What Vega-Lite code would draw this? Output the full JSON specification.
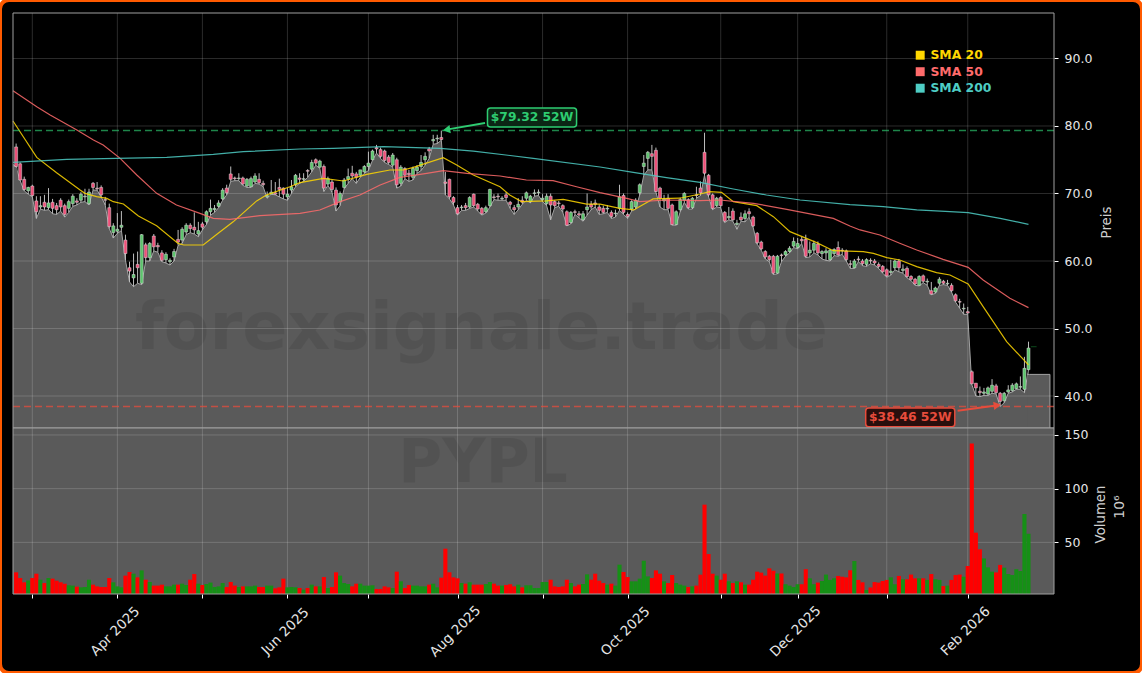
{"$schema":"https://vega.github.io/schema/vega-lite/v6.json","width":1142,"height":673,"padding":0,"autosize":"none","background":"#ffffff",
"config":{"font":"DejaVu Sans","view":{"fill":"#000000","stroke":"#ff5a00","strokeWidth":4,"cornerRadius":9}},
"datasets":{
"rows":[
{"i":0,"o":76.9,"h":77.4,"l":73.9,"c":74,"v":22.1,"d":"d"},{"i":1,"o":74.4,"h":74.6,"l":71.9,"c":72,"v":16.8,"d":"d"},{"i":2,"o":72.1,"h":72.5,"l":70.4,"c":70.6,"v":12.8,"d":"d"},{"i":3,"o":70.4,"h":71,"l":69.9,"c":70.9,"v":14.6,"d":"u"},{"i":4,"o":71.1,"h":71.3,"l":69.5,"c":69.7,"v":16.8,"d":"d"},{"i":5,"o":68.9,"h":69.6,"l":66.3,"c":67.3,"v":20.8,"d":"d"},{"i":6,"o":68,"h":69.6,"l":67.7,"c":68.2,"v":15.2,"d":"u"},{"i":7,"o":68.7,"h":69.8,"l":67.5,"c":68,"v":12.1,"d":"d"},{"i":8,"o":67.9,"h":70.8,"l":67.6,"c":68.6,"v":16.8,"d":"u"},{"i":9,"o":68.7,"h":69.2,"l":67,"c":67.8,"v":16.2,"d":"d"},
{"i":10,"o":68.2,"h":68.6,"l":66.9,"c":67.6,"v":14.3,"d":"d"},{"i":11,"o":69,"h":69.3,"l":67.4,"c":68,"v":12.8,"d":"d"},{"i":12,"o":68.2,"h":68.5,"l":66.5,"c":66.9,"v":11.5,"d":"d"},{"i":13,"o":67.8,"h":69.1,"l":67.2,"c":68.8,"v":10,"d":"u"},{"i":14,"o":68.5,"h":69.9,"l":68.1,"c":69.6,"v":9.7,"d":"u"},{"i":15,"o":68.9,"h":69.3,"l":68.3,"c":68.7,"v":8.7,"d":"d"},{"i":16,"o":69,"h":70.2,"l":68.7,"c":69.9,"v":8.1,"d":"u"},{"i":17,"o":69.5,"h":70.7,"l":68.8,"c":69.6,"v":8.4,"d":"u"},{"i":18,"o":68.5,"h":70.7,"l":68.3,"c":70.2,"v":15.2,"d":"u"},{"i":19,"o":71.5,"h":71.7,"l":70.5,"c":70.9,"v":10.6,"d":"d"},
{"i":20,"o":70.8,"h":71.7,"l":70.5,"c":70.7,"v":9,"d":"d"},{"i":21,"o":70.9,"h":71.2,"l":69.5,"c":69.8,"v":8.4,"d":"d"},{"i":22,"o":69.1,"h":69.5,"l":68.3,"c":69,"v":8.4,"d":"d"},{"i":23,"o":67.9,"h":68.5,"l":64.8,"c":65.1,"v":16.8,"d":"d"},{"i":24,"o":64.2,"h":65.6,"l":63.4,"c":65.2,"v":12.8,"d":"u"},{"i":25,"o":64.4,"h":67.1,"l":64.1,"c":64.7,"v":9,"d":"u"},{"i":26,"o":65,"h":67.4,"l":64.5,"c":65.3,"v":8.1,"d":"u"},{"i":27,"o":63.1,"h":63.9,"l":60.1,"c":61.1,"v":19,"d":"d"},{"i":28,"o":59,"h":59.9,"l":56.9,"c":58.5,"v":22.4,"d":"d"},{"i":29,"o":57.5,"h":61.1,"l":56.2,"c":58,"v":20.8,"d":"u"},
{"i":30,"o":59.5,"h":61.4,"l":56.7,"c":59,"v":17.4,"d":"d"},{"i":31,"o":56.7,"h":64,"l":56.5,"c":63.9,"v":23.9,"d":"u"},{"i":32,"o":62.4,"h":62.7,"l":60,"c":60.5,"v":15.2,"d":"d"},{"i":33,"o":60.5,"h":62.8,"l":60,"c":62.6,"v":13.1,"d":"u"},{"i":34,"o":63.7,"h":64,"l":61.5,"c":62.1,"v":9.7,"d":"d"},{"i":35,"o":62.3,"h":62.7,"l":61.3,"c":62.1,"v":9.7,"d":"d"},{"i":36,"o":61.2,"h":61.6,"l":59.9,"c":60.1,"v":10.6,"d":"d"},{"i":37,"o":60.2,"h":61.3,"l":59.7,"c":61,"v":9,"d":"u"},{"i":38,"o":59.9,"h":60.4,"l":59.4,"c":60.1,"v":9,"d":"u"},{"i":39,"o":60.6,"h":61.8,"l":60,"c":61.4,"v":10.6,"d":"u"},
{"i":40,"o":63.2,"h":64.6,"l":62.3,"c":62.8,"v":10.6,"d":"d"},{"i":41,"o":63.1,"h":65,"l":62.6,"c":64.7,"v":11.5,"d":"u"},{"i":42,"o":64.3,"h":65.6,"l":63.9,"c":65.3,"v":10.3,"d":"u"},{"i":43,"o":65.3,"h":65.6,"l":64.2,"c":64.8,"v":15.2,"d":"d"},{"i":44,"o":65,"h":67.2,"l":64,"c":64.6,"v":20.5,"d":"d"},{"i":45,"o":64,"h":65.8,"l":63.6,"c":64.5,"v":11.5,"d":"u"},{"i":46,"o":65.5,"h":65.8,"l":64.6,"c":65,"v":10.3,"d":"d"},{"i":47,"o":65.8,"h":67.5,"l":65.4,"c":67.3,"v":11.2,"d":"u"},{"i":48,"o":67.3,"h":69.1,"l":66.8,"c":67.8,"v":12.5,"d":"u"},{"i":49,"o":67.6,"h":68.3,"l":67.2,"c":67.8,"v":8.4,"d":"u"},
{"i":50,"o":68.1,"h":69,"l":67.9,"c":68.6,"v":9,"d":"u"},{"i":51,"o":69.2,"h":70.8,"l":69,"c":70.5,"v":12.1,"d":"u"},{"i":52,"o":70.8,"h":71.3,"l":69.8,"c":70.1,"v":8.4,"d":"d"},{"i":53,"o":72.9,"h":74,"l":71.8,"c":72.1,"v":13.1,"d":"d"},{"i":54,"o":72.3,"h":72.5,"l":71.9,"c":72.2,"v":9.7,"d":"d"},{"i":55,"o":72.2,"h":73,"l":71.9,"c":72.3,"v":8.4,"d":"u"},{"i":56,"o":72.3,"h":72.5,"l":71.2,"c":71.4,"v":9,"d":"d"},{"i":57,"o":71.1,"h":72.3,"l":70.9,"c":72.1,"v":9,"d":"u"},{"i":58,"o":71,"h":72.5,"l":70.9,"c":72.2,"v":9,"d":"u"},{"i":59,"o":71.7,"h":73,"l":71.5,"c":72.6,"v":9.7,"d":"u"},
{"i":60,"o":72.1,"h":73,"l":71.4,"c":71.6,"v":8.4,"d":"d"},{"i":61,"o":71.5,"h":71.9,"l":71,"c":71.3,"v":8.4,"d":"d"},{"i":62,"o":69.5,"h":70.3,"l":69.3,"c":69.7,"v":9.7,"d":"u"},{"i":63,"o":69.9,"h":72,"l":69.9,"c":70.2,"v":9.7,"d":"u"},{"i":64,"o":70.1,"h":71.7,"l":69.8,"c":69.9,"v":7.2,"d":"d"},{"i":65,"o":70.9,"h":72.2,"l":69.5,"c":70.6,"v":8.1,"d":"d"},{"i":66,"o":70.8,"h":70.9,"l":69.2,"c":69.9,"v":16.2,"d":"d"},{"i":67,"o":69.5,"h":70.8,"l":69,"c":69.9,"v":8.1,"d":"u"},{"i":68,"o":70.5,"h":72,"l":70,"c":71,"v":8.4,"d":"u"},{"i":69,"o":71.3,"h":72.9,"l":71,"c":72.7,"v":8.1,"d":"u"},
{"i":70,"o":72.3,"h":73,"l":71.5,"c":72.1,"v":7.5,"d":"d"},{"i":71,"o":72.1,"h":73,"l":71.8,"c":72.2,"v":5.9,"d":"u"},{"i":72,"o":73.4,"h":73.6,"l":72.4,"c":73.3,"v":7.5,"d":"d"},{"i":73,"o":73.6,"h":75,"l":73.2,"c":74.6,"v":10.6,"d":"u"},{"i":74,"o":75,"h":75.2,"l":74.2,"c":74.5,"v":9,"d":"d"},{"i":75,"o":73.9,"h":75,"l":73.7,"c":74.8,"v":9,"d":"u"},{"i":76,"o":74,"h":74.3,"l":70.3,"c":70.8,"v":17.7,"d":"d"},{"i":77,"o":71.4,"h":72.5,"l":71.2,"c":72.2,"v":7.5,"d":"u"},{"i":78,"o":71.7,"h":72,"l":70.2,"c":70.6,"v":8.4,"d":"d"},{"i":79,"o":70.5,"h":70.9,"l":67.4,"c":68.3,"v":22.1,"d":"d"},
{"i":80,"o":68.8,"h":70.3,"l":68.2,"c":70,"v":19,"d":"u"},{"i":81,"o":70.9,"h":72.3,"l":70.7,"c":72,"v":12.1,"d":"u"},{"i":82,"o":72.1,"h":73.7,"l":71.5,"c":72.5,"v":11.2,"d":"u"},{"i":83,"o":73,"h":74.1,"l":72.2,"c":72.6,"v":9,"d":"d"},{"i":84,"o":72.9,"h":73.2,"l":71.5,"c":72.4,"v":11.5,"d":"d"},{"i":85,"o":72.7,"h":73.5,"l":72.4,"c":73.5,"v":11.5,"d":"u"},{"i":86,"o":73.2,"h":74.2,"l":73,"c":74,"v":9.7,"d":"u"},{"i":87,"o":74,"h":76.2,"l":73.4,"c":74.5,"v":9.7,"d":"u"},{"i":88,"o":75,"h":76.5,"l":74.9,"c":76.3,"v":10,"d":"u"},{"i":89,"o":76.8,"h":77.2,"l":76,"c":76.6,"v":6.6,"d":"d"},
{"i":90,"o":76.5,"h":76.8,"l":75.2,"c":75.5,"v":6.6,"d":"d"},{"i":91,"o":76.3,"h":76.5,"l":74.6,"c":74.9,"v":9,"d":"d"},{"i":92,"o":75.4,"h":75.7,"l":74.3,"c":74.6,"v":8.1,"d":"d"},{"i":93,"o":74.2,"h":76,"l":73.9,"c":75.7,"v":7.5,"d":"u"},{"i":94,"o":75,"h":75.3,"l":70.8,"c":71.3,"v":22.7,"d":"d"},{"i":95,"o":71.5,"h":74.2,"l":71.1,"c":73.9,"v":13.7,"d":"u"},{"i":96,"o":73.7,"h":73.9,"l":72.2,"c":72.7,"v":7.5,"d":"d"},{"i":97,"o":73,"h":73.5,"l":71.8,"c":72.8,"v":10.3,"d":"d"},{"i":98,"o":72.4,"h":74,"l":72,"c":73.7,"v":9.7,"d":"u"},{"i":99,"o":73.4,"h":74.2,"l":73,"c":73.9,"v":9.7,"d":"u"},
{"i":100,"o":74,"h":75.7,"l":73.4,"c":74.6,"v":9,"d":"u"},{"i":101,"o":75,"h":76.1,"l":74.2,"c":75.5,"v":9,"d":"u"},{"i":102,"o":76.6,"h":76.9,"l":75.2,"c":76.3,"v":10.6,"d":"d"},{"i":103,"o":77.8,"h":78.7,"l":77.3,"c":78,"v":11.5,"d":"u"},{"i":104,"o":78.1,"h":78.7,"l":77.4,"c":78.2,"v":8.1,"d":"u"},{"i":105,"o":78.3,"h":79.32,"l":77.9,"c":78,"v":17.1,"d":"d"},{"i":106,"o":71.7,"h":73.2,"l":69.8,"c":71.5,"v":44.1,"d":"d"},{"i":107,"o":72.1,"h":72.2,"l":69.2,"c":69.5,"v":22.1,"d":"d"},{"i":108,"o":69.4,"h":69.6,"l":68.3,"c":68.7,"v":17.4,"d":"d"},{"i":109,"o":67.9,"h":68.3,"l":66.8,"c":67,"v":16.5,"d":"d"},
{"i":110,"o":67.9,"h":68.3,"l":67.5,"c":68,"v":12.1,"d":"u"},{"i":111,"o":68.2,"h":68.6,"l":67.5,"c":67.9,"v":11.5,"d":"d"},{"i":112,"o":68,"h":69.6,"l":67.8,"c":69.4,"v":12.8,"d":"u"},{"i":113,"o":69.9,"h":70,"l":68,"c":68.2,"v":10.6,"d":"d"},{"i":114,"o":68.4,"h":68.6,"l":67.4,"c":67.7,"v":10.6,"d":"d"},{"i":115,"o":67.8,"h":68,"l":66.8,"c":67,"v":10.6,"d":"d"},{"i":116,"o":67.3,"h":68.2,"l":67.1,"c":67.9,"v":11.2,"d":"u"},{"i":117,"o":68.2,"h":70.7,"l":68,"c":70.6,"v":13.1,"d":"u"},{"i":118,"o":69.5,"h":69.9,"l":69.1,"c":69.4,"v":11.5,"d":"d"},{"i":119,"o":69.6,"h":70,"l":69,"c":69.5,"v":9.7,"d":"d"},
{"i":120,"o":69.2,"h":69.6,"l":69,"c":69.3,"v":9.7,"d":"u"},{"i":121,"o":69.8,"h":70.2,"l":69,"c":69.4,"v":10.3,"d":"d"},{"i":122,"o":68.7,"h":68.9,"l":67.8,"c":68.4,"v":10.9,"d":"d"},{"i":123,"o":67.9,"h":68.3,"l":66.9,"c":67.6,"v":9,"d":"d"},{"i":124,"o":68,"h":69.3,"l":67.6,"c":68.4,"v":10.6,"d":"u"},{"i":125,"o":69,"h":69.6,"l":68.4,"c":68.7,"v":8.1,"d":"d"},{"i":126,"o":69.3,"h":70.3,"l":69,"c":70.1,"v":10,"d":"u"},{"i":127,"o":68.8,"h":69.8,"l":68.6,"c":69.6,"v":10,"d":"u"},{"i":128,"o":70,"h":70.6,"l":69.6,"c":70.1,"v":7.5,"d":"u"},{"i":129,"o":70.1,"h":70.6,"l":69.7,"c":70.2,"v":7.5,"d":"u"},
{"i":130,"o":69.1,"h":69.9,"l":68.8,"c":69.3,"v":13.1,"d":"u"},{"i":131,"o":68.5,"h":70,"l":68.2,"c":69.6,"v":13.1,"d":"u"},{"i":132,"o":69.6,"h":70,"l":66.1,"c":68.3,"v":15.2,"d":"d"},{"i":133,"o":68.8,"h":69,"l":67.9,"c":68.2,"v":9,"d":"d"},{"i":134,"o":68.6,"h":68.9,"l":68.1,"c":68.5,"v":8.4,"d":"d"},{"i":135,"o":68.2,"h":68.4,"l":67.2,"c":67.7,"v":9,"d":"d"},{"i":136,"o":67.3,"h":67.5,"l":65.2,"c":65.3,"v":15.2,"d":"d"},{"i":137,"o":65.7,"h":67.4,"l":65.5,"c":67.2,"v":12.1,"d":"u"},{"i":138,"o":67.3,"h":67.6,"l":66.9,"c":67.2,"v":9,"d":"d"},{"i":139,"o":67,"h":67.4,"l":66.4,"c":66.8,"v":10.6,"d":"d"},
{"i":140,"o":66.1,"h":67.4,"l":65.9,"c":67,"v":11.2,"d":"u"},{"i":141,"o":67.6,"h":70,"l":66.8,"c":68,"v":20.2,"d":"u"},{"i":142,"o":68.4,"h":68.9,"l":67.6,"c":68,"v":15.2,"d":"d"},{"i":143,"o":68.6,"h":69.1,"l":68,"c":68.4,"v":20.8,"d":"d"},{"i":144,"o":68,"h":68.4,"l":66.9,"c":67.5,"v":14.3,"d":"d"},{"i":145,"o":67.8,"h":68.2,"l":67,"c":67.2,"v":12.1,"d":"d"},{"i":146,"o":67.7,"h":68.3,"l":67.2,"c":67.8,"v":10.6,"d":"u"},{"i":147,"o":67.2,"h":67.5,"l":66.3,"c":66.6,"v":11.5,"d":"d"},{"i":148,"o":67,"h":67.6,"l":66.5,"c":67.1,"v":9.7,"d":"u"},{"i":149,"o":67.8,"h":71.3,"l":67.5,"c":69.5,"v":29.2,"d":"u"},
{"i":150,"o":69.7,"h":70,"l":66.9,"c":67.2,"v":22.4,"d":"d"},{"i":151,"o":66.9,"h":67.2,"l":66.3,"c":66.6,"v":17.7,"d":"d"},{"i":152,"o":67.7,"h":69,"l":67.4,"c":68.8,"v":13.7,"d":"u"},{"i":153,"o":68,"h":69.3,"l":67.7,"c":69,"v":13.7,"d":"u"},{"i":154,"o":70.1,"h":71.5,"l":69.8,"c":71.3,"v":16.2,"d":"u"},{"i":155,"o":74,"h":75.7,"l":72.7,"c":74.5,"v":32.9,"d":"u"},{"i":156,"o":75.2,"h":76.3,"l":73.5,"c":76.1,"v":18.3,"d":"u"},{"i":157,"o":75.9,"h":77.2,"l":73.5,"c":75.5,"v":16.8,"d":"d"},{"i":158,"o":76.4,"h":76.8,"l":70.2,"c":70.3,"v":23.9,"d":"d"},{"i":159,"o":70.8,"h":71,"l":68,"c":69.3,"v":20.8,"d":"d"},
{"i":160,"o":68.9,"h":69.8,"l":67.6,"c":69.2,"v":13.7,"d":"u"},{"i":161,"o":69.3,"h":69.9,"l":67.6,"c":67.8,"v":12.1,"d":"d"},{"i":162,"o":68.3,"h":68.5,"l":65.3,"c":65.4,"v":19.6,"d":"d"},{"i":163,"o":65.4,"h":67.5,"l":65.3,"c":67.3,"v":12.1,"d":"u"},{"i":164,"o":67.6,"h":69.4,"l":67.3,"c":69.1,"v":10.6,"d":"u"},{"i":165,"o":69,"h":70.2,"l":68.7,"c":70,"v":9.7,"d":"u"},{"i":166,"o":69.1,"h":69.3,"l":67.7,"c":67.9,"v":8.4,"d":"d"},{"i":167,"o":67.9,"h":69.5,"l":67.7,"c":69.3,"v":9,"d":"u"},{"i":168,"o":69.8,"h":71,"l":69.3,"c":69.7,"v":9.7,"d":"d"},{"i":169,"o":70.8,"h":71.8,"l":69.7,"c":70.1,"v":19.9,"d":"d"},
{"i":170,"o":76.1,"h":79,"l":72.7,"c":73,"v":85.1,"d":"d"},{"i":171,"o":72.7,"h":72.9,"l":69.5,"c":69.8,"v":39.1,"d":"d"},{"i":172,"o":69.8,"h":70,"l":67.6,"c":67.8,"v":20.8,"d":"d"},{"i":173,"o":68.2,"h":69.5,"l":68,"c":69.3,"v":19,"d":"u"},{"i":174,"o":69.4,"h":69.6,"l":67.9,"c":68.2,"v":15.2,"d":"d"},{"i":175,"o":67.2,"h":67.4,"l":65.7,"c":65.9,"v":20.8,"d":"d"},{"i":176,"o":66.4,"h":68,"l":66.1,"c":66.6,"v":13.7,"d":"u"},{"i":177,"o":67.4,"h":67.8,"l":65.9,"c":66.1,"v":12.1,"d":"d"},{"i":178,"o":65.4,"h":66.1,"l":64.7,"c":65.6,"v":13.7,"d":"u"},{"i":179,"o":66.5,"h":67.2,"l":65.9,"c":66.1,"v":12.8,"d":"d"},
{"i":180,"o":66.3,"h":67.5,"l":65.8,"c":67,"v":10.6,"d":"u"},{"i":181,"o":67.3,"h":67.8,"l":66.5,"c":67,"v":10.6,"d":"d"},{"i":182,"o":66.5,"h":66.7,"l":65,"c":65.2,"v":15.2,"d":"d"},{"i":183,"o":64.1,"h":64.3,"l":62.5,"c":62.7,"v":22.7,"d":"d"},{"i":184,"o":62.8,"h":63,"l":61.6,"c":61.8,"v":21.8,"d":"d"},{"i":185,"o":61.4,"h":61.6,"l":60.3,"c":60.6,"v":19,"d":"d"},{"i":186,"o":60.7,"h":60.9,"l":59.9,"c":60.2,"v":25.8,"d":"d"},{"i":187,"o":60.7,"h":60.9,"l":58,"c":58.2,"v":23.6,"d":"d"},{"i":188,"o":58.2,"h":60.9,"l":58.1,"c":60.7,"v":21,"d":"u"},{"i":189,"o":60.9,"h":61.1,"l":59.9,"c":60.8,"v":21,"d":"d"},
{"i":190,"o":60.9,"h":61.6,"l":60.7,"c":61.4,"v":11,"d":"u"},{"i":191,"o":61.4,"h":62.2,"l":61.2,"c":61.9,"v":9.7,"d":"u"},{"i":192,"o":62.2,"h":63.5,"l":62,"c":62.9,"v":8.4,"d":"u"},{"i":193,"o":62,"h":63.4,"l":61.8,"c":62.6,"v":11,"d":"u"},{"i":194,"o":63.2,"h":63.6,"l":62.6,"c":63,"v":11,"d":"d"},{"i":195,"o":63.2,"h":63.9,"l":60.5,"c":60.7,"v":25,"d":"d"},{"i":196,"o":61.2,"h":62.9,"l":60.6,"c":61.6,"v":16.5,"d":"u"},{"i":197,"o":61.6,"h":63,"l":61.2,"c":62.6,"v":11,"d":"u"},{"i":198,"o":62.5,"h":62.9,"l":60.9,"c":61.2,"v":12.5,"d":"d"},{"i":199,"o":61.1,"h":61.6,"l":60.3,"c":61.4,"v":14,"d":"u"},
{"i":200,"o":61.2,"h":61.9,"l":60.1,"c":61.5,"v":20,"d":"u"},{"i":201,"o":60.2,"h":61.8,"l":60,"c":61.6,"v":15,"d":"u"},{"i":202,"o":61.1,"h":61.9,"l":60.8,"c":61.7,"v":16.5,"d":"u"},{"i":203,"o":62,"h":62.9,"l":60.7,"c":60.9,"v":18.7,"d":"d"},{"i":204,"o":61.6,"h":61.9,"l":61,"c":61.5,"v":18,"d":"d"},{"i":205,"o":61.5,"h":61.7,"l":60,"c":60.2,"v":17.4,"d":"d"},{"i":206,"o":59.6,"h":60.1,"l":58.9,"c":59.5,"v":24,"d":"d"},{"i":207,"o":59,"h":60.3,"l":58.9,"c":60,"v":32.6,"d":"u"},{"i":208,"o":60.3,"h":60.7,"l":59.9,"c":60.2,"v":15,"d":"d"},{"i":209,"o":60,"h":60.3,"l":59.3,"c":59.6,"v":12.8,"d":"d"},
{"i":210,"o":59.5,"h":60.4,"l":59.2,"c":60.2,"v":5.6,"d":"u"},{"i":211,"o":60.1,"h":60.4,"l":59.6,"c":60,"v":8,"d":"d"},{"i":212,"o":60,"h":60.3,"l":59.4,"c":59.7,"v":13,"d":"d"},{"i":213,"o":59.5,"h":59.8,"l":58.9,"c":59.2,"v":12.5,"d":"d"},{"i":214,"o":59.2,"h":59.4,"l":58.2,"c":58.4,"v":14,"d":"d"},{"i":215,"o":58.7,"h":58.9,"l":57.6,"c":57.8,"v":15,"d":"d"},{"i":216,"o":58.3,"h":60.2,"l":57.9,"c":58.5,"v":17.4,"d":"u"},{"i":217,"o":59,"h":60.2,"l":58.7,"c":60,"v":11,"d":"u"},{"i":218,"o":60,"h":60.3,"l":58.4,"c":59,"v":18.7,"d":"d"},{"i":219,"o":58.6,"h":59.5,"l":58.2,"c":58.8,"v":15.6,"d":"u"},
{"i":220,"o":58.9,"h":59.2,"l":57.5,"c":57.7,"v":15.6,"d":"d"},{"i":221,"o":57.7,"h":57.9,"l":57.1,"c":57.3,"v":20,"d":"d"},{"i":222,"o":57.3,"h":57.5,"l":56.4,"c":56.6,"v":16.5,"d":"d"},{"i":223,"o":56.4,"h":57.9,"l":56.3,"c":57.7,"v":16.5,"d":"u"},{"i":224,"o":57.8,"h":58,"l":56.8,"c":57,"v":16.5,"d":"d"},{"i":225,"o":56.9,"h":57.4,"l":56.4,"c":57,"v":15,"d":"u"},{"i":226,"o":55.6,"h":56.9,"l":55,"c":55.1,"v":20.5,"d":"d"},{"i":227,"o":55.4,"h":56.2,"l":55.2,"c":56,"v":15.6,"d":"u"},{"i":228,"o":56.7,"h":57.6,"l":56.4,"c":57.3,"v":15,"d":"u"},{"i":229,"o":57,"h":57.2,"l":56.5,"c":56.7,"v":9.3,"d":"d"},
{"i":230,"o":56.6,"h":57.2,"l":56.4,"c":56.7,"v":9.7,"d":"u"},{"i":231,"o":56.4,"h":56.7,"l":55.4,"c":55.6,"v":15,"d":"d"},{"i":232,"o":55,"h":55.2,"l":53.9,"c":54.1,"v":19.6,"d":"d"},{"i":233,"o":54,"h":54.4,"l":53,"c":53.9,"v":20,"d":"d"},{"i":234,"o":52.9,"h":53.7,"l":52.1,"c":53,"v":18,"d":"u"},{"i":235,"o":52.5,"h":53.2,"l":52.1,"c":52.3,"v":28,"d":"d"},{"i":236,"o":43.6,"h":43.8,"l":41.7,"c":41.8,"v":142,"d":"d"},{"i":237,"o":41.9,"h":41.9,"l":40,"c":41.2,"v":59,"d":"d"},{"i":238,"o":40.7,"h":41.4,"l":39.9,"c":40.5,"v":43.5,"d":"d"},{"i":239,"o":40.4,"h":41.2,"l":40.1,"c":40.6,"v":35,"d":"u"},
{"i":240,"o":40.3,"h":41.4,"l":40.1,"c":41.2,"v":26.7,"d":"u"},{"i":241,"o":40.7,"h":42.5,"l":40.4,"c":41.6,"v":22.7,"d":"u"},{"i":242,"o":41.5,"h":41.8,"l":40.3,"c":40.5,"v":22,"d":"d"},{"i":243,"o":40.4,"h":40.6,"l":38.46,"c":39.2,"v":29,"d":"d"},{"i":244,"o":39.3,"h":40.6,"l":39,"c":40.4,"v":26.4,"d":"u"},{"i":245,"o":40.6,"h":41.6,"l":40.4,"c":40.9,"v":20.5,"d":"u"},{"i":246,"o":40.8,"h":41.9,"l":40.6,"c":41.6,"v":19.6,"d":"u"},{"i":247,"o":41.1,"h":42,"l":41,"c":41.8,"v":25,"d":"u"},{"i":248,"o":41.3,"h":42.9,"l":41,"c":41.4,"v":23.3,"d":"u"},{"i":249,"o":41,"h":45.8,"l":40.5,"c":44.1,"v":76.4,"d":"u"},{"i":250,"o":43.9,"h":48.05,"l":43.85,"c":47.1,"v":58,"d":"u"}
],
"sma":[
{"s":"SMA 20","i":-0.77,"p":80.74},{"s":"SMA 20","i":5.1,"p":75.35},{"s":"SMA 20","i":10,"p":73.08},{"s":"SMA 20","i":15.8,"p":70.52},{"s":"SMA 20","i":17,"p":70.02},{"s":"SMA 20","i":19.9,"p":69.53},{"s":"SMA 20","i":22.4,"p":69.28},{"s":"SMA 20","i":24,"p":68.79},{"s":"SMA 20","i":26.5,"p":68.44},{"s":"SMA 20","i":30.2,"p":66.66},{"s":"SMA 20","i":34.7,"p":65.23},{"s":"SMA 20","i":40,"p":62.6},{"s":"SMA 20","i":41.4,"p":62.37},{"s":"SMA 20","i":46.2,"p":62.37},{"s":"SMA 20","i":49.9,"p":64.1},{"s":"SMA 20","i":53.6,"p":65.8},{"s":"SMA 20","i":59.4,"p":68.9},{"s":"SMA 20","i":61.9,"p":69.8},{"s":"SMA 20","i":67.6,"p":71},{"s":"SMA 20","i":70.1,"p":71.6},{"s":"SMA 20","i":75.9,"p":72.24},{"s":"SMA 20","i":80.8,"p":71.85},{"s":"SMA 20","i":86.6,"p":72.84},{"s":"SMA 20","i":92.3,"p":73.48},{"s":"SMA 20","i":95.6,"p":73.48},{"s":"SMA 20","i":98.1,"p":73.87},{"s":"SMA 20","i":105.5,"p":75.3},{"s":"SMA 20","i":108.8,"p":74.22},{"s":"SMA 20","i":112.9,"p":72.74},{"s":"SMA 20","i":119.5,"p":71},{"s":"SMA 20","i":121.9,"p":69.77},{"s":"SMA 20","i":124.8,"p":68.8},{"s":"SMA 20","i":131,"p":68.9},{"s":"SMA 20","i":135.1,"p":69.13},{"s":"SMA 20","i":140.9,"p":68.44},{"s":"SMA 20","i":144.2,"p":68.42},{"s":"SMA 20","i":149.1,"p":67.8},{"s":"SMA 20","i":152.5,"p":67.56},{"s":"SMA 20","i":157.3,"p":69.2},{"s":"SMA 20","i":163.9,"p":69.3},{"s":"SMA 20","i":168.9,"p":69.93},{"s":"SMA 20","i":171.3,"p":70.27},{"s":"SMA 20","i":174.2,"p":70.17},{"s":"SMA 20","i":177.1,"p":68.79},{"s":"SMA 20","i":182.9,"p":68.2},{"s":"SMA 20","i":187,"p":66.57},{"s":"SMA 20","i":191.1,"p":64.35},{"s":"SMA 20","i":197.7,"p":62.72},{"s":"SMA 20","i":201.8,"p":61.53},{"s":"SMA 20","i":209.2,"p":61.39},{"s":"SMA 20","i":211.7,"p":61.14},{"s":"SMA 20","i":215,"p":60.5},{"s":"SMA 20","i":218.2,"p":60.15},{"s":"SMA 20","i":222.4,"p":59.16},{"s":"SMA 20","i":227.3,"p":58.27},{"s":"SMA 20","i":230.6,"p":57.93},{"s":"SMA 20","i":235.1,"p":56.6},{"s":"SMA 20","i":238.8,"p":53.24},{"s":"SMA 20","i":244.6,"p":48.05},{"s":"SMA 20","i":250,"p":44.6},
{"s":"SMA 50","i":-0.77,"p":85.23},{"s":"SMA 50","i":5.1,"p":82.86},{"s":"SMA 50","i":8.4,"p":81.63},{"s":"SMA 50","i":15,"p":79.4},{"s":"SMA 50","i":19.1,"p":77.92},{"s":"SMA 50","i":21.5,"p":77.18},{"s":"SMA 50","i":25.7,"p":75.2},{"s":"SMA 50","i":29.8,"p":72.74},{"s":"SMA 50","i":34.7,"p":70.02},{"s":"SMA 50","i":39.6,"p":68.29},{"s":"SMA 50","i":45.4,"p":67.06},{"s":"SMA 50","i":48.7,"p":66.32},{"s":"SMA 50","i":52.8,"p":66.17},{"s":"SMA 50","i":60.2,"p":66.71},{"s":"SMA 50","i":70.1,"p":67.06},{"s":"SMA 50","i":75,"p":67.55},{"s":"SMA 50","i":80,"p":68.79},{"s":"SMA 50","i":84.9,"p":69.77},{"s":"SMA 50","i":89.9,"p":71.26},{"s":"SMA 50","i":94.8,"p":72.39},{"s":"SMA 50","i":101.4,"p":72.98},{"s":"SMA 50","i":105.5,"p":73.38},{"s":"SMA 50","i":111.3,"p":72.98},{"s":"SMA 50","i":119.5,"p":72.59},{"s":"SMA 50","i":126,"p":72},{"s":"SMA 50","i":132.6,"p":71.9},{"s":"SMA 50","i":138.4,"p":71},{"s":"SMA 50","i":144.2,"p":70.12},{"s":"SMA 50","i":150.8,"p":69.28},{"s":"SMA 50","i":154,"p":68.79},{"s":"SMA 50","i":160.6,"p":69.04},{"s":"SMA 50","i":168.9,"p":68.94},{"s":"SMA 50","i":173.8,"p":69.04},{"s":"SMA 50","i":182.1,"p":68.54},{"s":"SMA 50","i":190.3,"p":67.66},{"s":"SMA 50","i":201.8,"p":66.32},{"s":"SMA 50","i":205.9,"p":65.19},{"s":"SMA 50","i":208.4,"p":64.6},{"s":"SMA 50","i":213.3,"p":63.85},{"s":"SMA 50","i":218.2,"p":62.62},{"s":"SMA 50","i":222.4,"p":61.63},{"s":"SMA 50","i":228.9,"p":60.25},{"s":"SMA 50","i":235.1,"p":59.06},{"s":"SMA 50","i":238.8,"p":57.19},{"s":"SMA 50","i":245.4,"p":54.47},{"s":"SMA 50","i":250,"p":53.09},
{"s":"SMA 200","i":-0.77,"p":74.61},{"s":"SMA 200","i":12.5,"p":75.06},{"s":"SMA 200","i":24.8,"p":75.21},{"s":"SMA 200","i":37.2,"p":75.36},{"s":"SMA 200","i":48.7,"p":75.8},{"s":"SMA 200","i":56.1,"p":76.2},{"s":"SMA 200","i":70.1,"p":76.59},{"s":"SMA 200","i":78.3,"p":76.69},{"s":"SMA 200","i":90.7,"p":76.94},{"s":"SMA 200","i":104.7,"p":76.69},{"s":"SMA 200","i":112.9,"p":76.29},{"s":"SMA 200","i":127.7,"p":75.21},{"s":"SMA 200","i":144.2,"p":73.93},{"s":"SMA 200","i":152.4,"p":73.14},{"s":"SMA 200","i":160.6,"p":72.35},{"s":"SMA 200","i":168.9,"p":71.66},{"s":"SMA 200","i":177.1,"p":70.67},{"s":"SMA 200","i":185.3,"p":69.78},{"s":"SMA 200","i":193.6,"p":69.04},{"s":"SMA 200","i":205.9,"p":68.35},{"s":"SMA 200","i":214.1,"p":68.05},{"s":"SMA 200","i":222.4,"p":67.56},{"s":"SMA 200","i":230.6,"p":67.31},{"s":"SMA 200","i":235.1,"p":67.16},{"s":"SMA 200","i":243,"p":66.32},{"s":"SMA 200","i":250,"p":65.43}
],
"tail":[{"i":-0.77,"l":74.3,"g":"a"},{"i":0.3,"l":73.8,"g":"a"},{"i":249.7,"l":43.2,"g":"b"},{"i":250.3,"l":43.2,"g":"b"},{"i":255.3,"l":43.2,"g":"b"}],
"edge":[{"i":255.3,"p":35.26,"p2":43.2}],
"xgrid":[{"i":4},{"i":25},{"i":46},{"i":67},{"i":87},{"i":109},{"i":130},{"i":151},{"i":174},{"i":193},{"i":215},{"i":235}],
"pgrid":[{"i":-0.77,"i2":256.3,"p":40},{"i":-0.77,"i2":256.3,"p":50},{"i":-0.77,"i2":256.3,"p":60},{"i":-0.77,"i2":256.3,"p":70},{"i":-0.77,"i2":256.3,"p":80},{"i":-0.77,"i2":256.3,"p":90}],
"vgrid":[{"i":-0.77,"i2":256.3,"p":50},{"i":-0.77,"i2":256.3,"p":100},{"i":-0.77,"i2":256.3,"p":150}],
"pframe":[{"i":-0.77,"i2":256.3,"p":35.26,"p2":96.74}],
"vframe":[{"i":-0.77,"i2":256.3,"p":1.9,"p2":156.5}],
"hi":[{"i":-0.77,"i2":256.3,"p":79.32}],
"lo":[{"i":-0.77,"i2":256.3,"p":38.46}],
"hiArrow":[{"i":115.8,"i2":106.6,"p":80.44,"p2":79.5}],
"loArrow":[{"i":232.5,"i2":242,"p":37.82,"p2":38.6}],
"hiHead":[{"i":106.3,"p":79.45}],
"loHead":[{"i":242.3,"p":38.62}],
"hiBox":[{"i":116.4,"i2":138.4,"p":82.67,"p2":79.85,"t":"$79.32 52W","tx":127.4,"ty":81.26}],
"loBox":[{"i":209.8,"i2":231.8,"p":38.22,"p2":35.45,"t":"$38.46 52W","tx":220.8,"ty":36.84}],
"mark":[{"i":250.6,"i2":252,"p":47.3}],
"wm1":[{"i":114.9,"p":46.96,"t":"forexsignale.trade"}],
"wm2":[{"i":115.3,"p":106.4,"t":"PYPL"}],
"exp":[{"i":272.6,"p":82.9,"t":"10⁶"}]
},
"encoding":{"x":{"field":"i","type":"quantitative","scale":{"domain":[-0.77,256.3],"range":[13,1054],"padding":0,"nice":false,"zero":false},
"axis":{"orient":"bottom","offset":-79,"title":null,"values":[4,25,46,67,87,109,130,151,174,193,215,235],"grid":false,"domain":false,"tickColor":"#ffffff","tickSize":4,"tickWidth":1,"labelAngle":-45,"labelAlign":"center","labelBaseline":"middle","labelPadding":33,"labelOffset":-2.5,"labelColor":"#e6e6e6","labelFontSize":13.6,"labelOverlap":false,"labelBound":false,"labelFlush":false,"labelExpr":"datum.value==25?'Apr 2025':datum.value==67?'Jun 2025':datum.value==109?'Aug 2025':datum.value==151?'Oct 2025':datum.value==193?'Dec 2025':datum.value==235?'Feb 2026':''"}}},
"layer":[
{"data":{"name":"rows"},"mark":{"type":"area","color":"#5a5a5a","opacity":1,"line":{"stroke":"#a4a4a4","strokeWidth":1}},"encoding":{"y":{"field":"l","type":"quantitative","scale":{"domain":[35.26,96.74],"range":[428,13],"nice":false,"zero":false},
"axis":{"orient":"right","offset":-88,"values":[40,50,60,70,80,90],"format":".1f","grid":false,"domain":false,"tickColor":"#ffffff","tickSize":4,"labelColor":"#e6e6e6","labelFontSize":12.5,"labelPadding":6,"labelOverlap":false,"title":"Preis","titleColor":"#cfcfcf","titleFontSize":13.3,"titleFontWeight":"normal","titleAngle":270,"titleX":52,"titleY":222,"titleAlign":"center","titleBaseline":"middle"}},"y2":{"datum":35.26}}},
{"data":{"name":"tail"},"mark":{"type":"area","color":"#5a5a5a","opacity":1,"line":{"stroke":"#a4a4a4","strokeWidth":1}},"encoding":{"detail":{"field":"g"},"y":{"field":"l","type":"quantitative","scale":{"domain":[35.26,96.74],"range":[428,13],"nice":false,"zero":false},"axis":null},"y2":{"datum":35.26}}},
{"data":{"name":"edge"},"mark":{"type":"rule","color":"#a4a4a4","strokeWidth":1},"encoding":{"y":{"field":"p","type":"quantitative","scale":{"domain":[35.26,96.74],"range":[428,13],"nice":false,"zero":false},"axis":null},"y2":{"field":"p2"}}},
{"data":{"name":"wm1"},"mark":{"type":"text","font":"DejaVu Sans","fontWeight":"bold","fontSize":66.5,"baseline":"alphabetic","align":"center","color":"#000000","opacity":0.08},"encoding":{"text":{"field":"t"},"y":{"field":"p","type":"quantitative","scale":{"domain":[35.26,96.74],"range":[428,13],"nice":false,"zero":false},"axis":null}}},
{"data":{"name":"pgrid"},"mark":{"type":"rule","color":"#ffffff","opacity":0.17,"strokeWidth":1},"encoding":{"x2":{"field":"i2"},"y":{"field":"p","type":"quantitative","scale":{"domain":[35.26,96.74],"range":[428,13],"nice":false,"zero":false},"axis":null}}},
{"data":{"name":"xgrid"},"mark":{"type":"rule","color":"#ffffff","opacity":0.17,"strokeWidth":1},"encoding":{"y":{"datum":35.26,"type":"quantitative","scale":{"domain":[35.26,96.74],"range":[428,13],"nice":false,"zero":false},"axis":null},"y2":{"datum":96.74}}},
{"data":{"name":"rows"},"mark":{"type":"rule","color":"#bdbdbd","strokeWidth":1},"encoding":{"y":{"field":"l","type":"quantitative","scale":{"domain":[35.26,96.74],"range":[428,13],"nice":false,"zero":false},"axis":null},"y2":{"field":"h"}}},
{"data":{"name":"rows"},"mark":{"type":"bar","size":3,"stroke":"#dddddd","strokeWidth":0.5},"encoding":{"y":{"field":"o","type":"quantitative","scale":{"domain":[35.26,96.74],"range":[428,13],"nice":false,"zero":false},"axis":null},"y2":{"field":"c"},"color":{"condition":{"test":"datum.d=='u'","value":"#5cc46c"},"value":"#ee4f78"}}},
{"data":{"name":"sma"},"mark":{"type":"line","strokeWidth":1.2,"opacity":0.85},"encoding":{"y":{"field":"p","type":"quantitative","scale":{"domain":[35.26,96.74],"range":[428,13],"nice":false,"zero":false},"axis":null},"color":{"field":"s","type":"nominal","scale":{"domain":["SMA 20","SMA 50","SMA 200"],"range":["#FFD700","#FF6B6B","#4ECDC4"]},"legend":{"orient":"none","legendX":914,"legendY":49,"title":null,"symbolType":"square","symbolSize":80,"symbolStrokeWidth":0,"labelFontSize":12.4,"labelFontWeight":"bold","labelOffset":4,"rowPadding":3.5,"encoding":{"symbols":{"fill":{"condition":[{"test":"datum.value=='SMA 20'","value":"#FFD700"},{"test":"datum.value=='SMA 50'","value":"#FF6B6B"}],"value":"#4ECDC4"},"opacity":{"value":1}},"labels":{"fill":{"condition":[{"test":"datum.value=='SMA 20'","value":"#FFD700"},{"test":"datum.value=='SMA 50'","value":"#FF6B6B"}],"value":"#4ECDC4"}}}}}}},
{"data":{"name":"hi"},"mark":{"type":"rule","color":"#2ecc71","opacity":0.65,"strokeWidth":1.5,"strokeDash":[7,4]},"encoding":{"x2":{"field":"i2"},"y":{"field":"p","type":"quantitative","scale":{"domain":[35.26,96.74],"range":[428,13],"nice":false,"zero":false},"axis":null}}},
{"data":{"name":"lo"},"mark":{"type":"rule","color":"#e74c3c","opacity":0.75,"strokeWidth":1.5,"strokeDash":[7,4]},"encoding":{"x2":{"field":"i2"},"y":{"field":"p","type":"quantitative","scale":{"domain":[35.26,96.74],"range":[428,13],"nice":false,"zero":false},"axis":null}}},
{"data":{"name":"mark"},"mark":{"type":"rule","color":"#0c4a1c","strokeWidth":1},"encoding":{"x2":{"field":"i2"},"y":{"field":"p","type":"quantitative","scale":{"domain":[35.26,96.74],"range":[428,13],"nice":false,"zero":false},"axis":null}}},
{"data":{"name":"hiArrow"},"mark":{"type":"rule","color":"#2ecc71","strokeWidth":2},"encoding":{"x2":{"field":"i2"},"y":{"field":"p","type":"quantitative","scale":{"domain":[35.26,96.74],"range":[428,13],"nice":false,"zero":false},"axis":null},"y2":{"field":"p2"}}},
{"data":{"name":"loArrow"},"mark":{"type":"rule","color":"#e74c3c","strokeWidth":2},"encoding":{"x2":{"field":"i2"},"y":{"field":"p","type":"quantitative","scale":{"domain":[35.26,96.74],"range":[428,13],"nice":false,"zero":false},"axis":null},"y2":{"field":"p2"}}},
{"data":{"name":"hiHead"},"mark":{"type":"point","shape":"triangle-left","filled":true,"color":"#2ecc71","opacity":1,"size":70,"angle":351},"encoding":{"y":{"field":"p","type":"quantitative","scale":{"domain":[35.26,96.74],"range":[428,13],"nice":false,"zero":false},"axis":null}}},
{"data":{"name":"loHead"},"mark":{"type":"point","shape":"triangle-right","filled":true,"color":"#e74c3c","opacity":1,"size":70,"angle":352},"encoding":{"y":{"field":"p","type":"quantitative","scale":{"domain":[35.26,96.74],"range":[428,13],"nice":false,"zero":false},"axis":null}}},
{"data":{"name":"hiBox"},"mark":{"type":"rect","fill":"#0b2615","stroke":"#2ecc71","strokeWidth":1.5,"cornerRadius":3},"encoding":{"x2":{"field":"i2"},"y":{"field":"p","type":"quantitative","scale":{"domain":[35.26,96.74],"range":[428,13],"nice":false,"zero":false},"axis":null},"y2":{"field":"p2"}}},
{"data":{"name":"loBox"},"mark":{"type":"rect","fill":"#2a0f0d","stroke":"#e74c3c","strokeWidth":1.5,"cornerRadius":3},"encoding":{"x2":{"field":"i2"},"y":{"field":"p","type":"quantitative","scale":{"domain":[35.26,96.74],"range":[428,13],"nice":false,"zero":false},"axis":null},"y2":{"field":"p2"}}},
{"data":{"name":"hiBox"},"mark":{"type":"text","fontWeight":"bold","fontSize":12.3,"color":"#2ecc71","align":"center","baseline":"middle"},"encoding":{"x":{"field":"tx","type":"quantitative","scale":{"domain":[-0.77,256.3],"range":[13,1054],"padding":0,"nice":false,"zero":false}},"text":{"field":"t"},"y":{"field":"ty","type":"quantitative","scale":{"domain":[35.26,96.74],"range":[428,13],"nice":false,"zero":false},"axis":null}}},
{"data":{"name":"loBox"},"mark":{"type":"text","fontWeight":"bold","fontSize":12.3,"color":"#e74c3c","align":"center","baseline":"middle"},"encoding":{"x":{"field":"tx","type":"quantitative","scale":{"domain":[-0.77,256.3],"range":[13,1054],"padding":0,"nice":false,"zero":false}},"text":{"field":"t"},"y":{"field":"ty","type":"quantitative","scale":{"domain":[35.26,96.74],"range":[428,13],"nice":false,"zero":false},"axis":null}}},
{"data":{"name":"pframe"},"mark":{"type":"rect","fill":null,"stroke":"#a0a0a0","strokeWidth":1},"encoding":{"x2":{"field":"i2"},"y":{"field":"p","type":"quantitative","scale":{"domain":[35.26,96.74],"range":[428,13],"nice":false,"zero":false},"axis":null},"y2":{"field":"p2"}}},
{"data":{"name":"vframe"},"mark":{"type":"rect","fill":"#5a5a5a"},"encoding":{"x2":{"field":"i2"},"y":{"field":"p","type":"quantitative","scale":{"domain":[1.9,156.5],"range":[594,428],"nice":false,"zero":false},
"axis":{"orient":"right","offset":-88,"values":[50,100,150],"grid":false,"domain":false,"tickColor":"#ffffff","tickSize":4,"labelColor":"#e6e6e6","labelFontSize":12.5,"labelPadding":6,"labelOverlap":false,"title":"Volumen","titleColor":"#cfcfcf","titleFontSize":13.3,"titleFontWeight":"normal","titleAngle":270,"titleX":46,"titleY":514,"titleAlign":"center","titleBaseline":"middle"}},"y2":{"field":"p2"}}},
{"data":{"name":"wm2"},"mark":{"type":"text","fontWeight":"bold","fontSize":60,"baseline":"alphabetic","align":"center","color":"#000000","opacity":0.08},"encoding":{"text":{"field":"t"},"y":{"field":"p","type":"quantitative","scale":{"domain":[1.9,156.5],"range":[594,428],"nice":false,"zero":false},"axis":null}}},
{"data":{"name":"vgrid"},"mark":{"type":"rule","color":"#ffffff","opacity":0.17,"strokeWidth":1},"encoding":{"x2":{"field":"i2"},"y":{"field":"p","type":"quantitative","scale":{"domain":[1.9,156.5],"range":[594,428],"nice":false,"zero":false},"axis":null}}},
{"data":{"name":"xgrid"},"mark":{"type":"rule","color":"#ffffff","opacity":0.17,"strokeWidth":1},"encoding":{"y":{"datum":1.9,"type":"quantitative","scale":{"domain":[1.9,156.5],"range":[594,428],"nice":false,"zero":false},"axis":null},"y2":{"datum":156.5}}},
{"data":{"name":"rows"},"mark":{"type":"bar","size":4.1},"encoding":{"y":{"field":"v","type":"quantitative","scale":{"domain":[1.9,156.5],"range":[594,428],"nice":false,"zero":false},"axis":null},"y2":{"datum":1.9},"color":{"condition":{"test":"datum.d=='u'","value":"#169016"},"value":"#ff0000"}}},
{"data":{"name":"exp"},"mark":{"type":"text","fontSize":14,"color":"#cfcfcf","angle":270,"align":"center","baseline":"middle"},"encoding":{"text":{"field":"t"},"y":{"field":"p","type":"quantitative","scale":{"domain":[1.9,156.5],"range":[594,428],"nice":false,"zero":false},"axis":null}}},
{"data":{"name":"vframe"},"mark":{"type":"rect","fill":null,"stroke":"#a0a0a0","strokeWidth":1},"encoding":{"x2":{"field":"i2"},"y":{"field":"p","type":"quantitative","scale":{"domain":[1.9,156.5],"range":[594,428],"nice":false,"zero":false},"axis":null},"y2":{"field":"p2"}}}
],
"resolve":{"scale":{"y":"independent"},"axis":{"y":"independent"}}}
